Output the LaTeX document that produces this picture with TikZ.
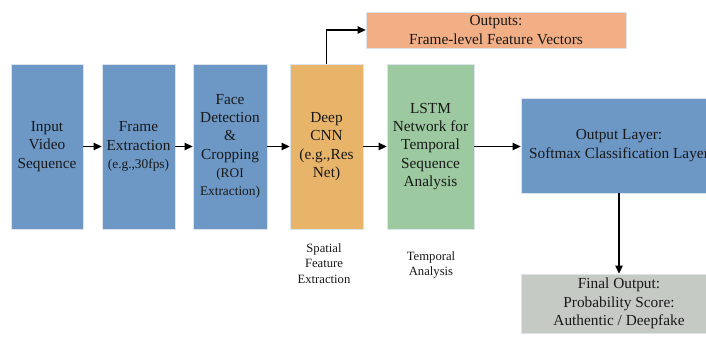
\documentclass[tikz,border=0pt]{standalone}
\usepackage{fontspec}
\setmainfont{Liberation Serif}
\usetikzlibrary{arrows.meta}
\definecolor{cblue}{HTML}{6D98C6}
\definecolor{corange}{HTML}{E8B46A}
\definecolor{cgreen}{HTML}{9CC9A0}
\definecolor{csalmon}{HTML}{F2AE85}
\definecolor{cgray}{HTML}{C6CAC5}
\definecolor{cedge}{HTML}{DDE3EA}
\tikzset{
  box/.style={rectangle, draw=cedge, line width=0.5pt, inner sep=1pt, align=center,
    font=\fontsize{11.5}{13.7}\selectfont, text=black!90},
  tall/.style={box, minimum height=123.75pt},
  sm/.style={font=\fontsize{10}{12.5}\selectfont},
  lbl/.style={align=center, font=\fontsize{9.5}{11.6}\selectfont, text=black!90},
  arr/.style={-{Triangle[length=6pt,width=5.5pt]}, line width=1.1pt, black}
}
\begin{document}
\begin{tikzpicture}[x=0.75pt,y=-0.75pt]
\useasboundingbox (0,0) rectangle (706,343);
\clip (0,0) rectangle (706,343);
\fill[white] (0,0) rectangle (706,343);
\node[tall, fill=cblue, minimum width=54pt] (b1) at (47,146.5) {Input\\Video\\Sequence};
\node[tall, fill=cblue, minimum width=54.75pt] (b2) at (138.5,146.5) {Frame\\Extraction\\{\fontsize{10}{12.5}\selectfont(e.g.,30fps)}};
\node[tall, fill=cblue, minimum width=55.5pt] (b3) at (230,146.5) {Face\\Detection\\\&\\Cropping\\{\fontsize{10}{12.5}\selectfont(ROI}\\{\fontsize{10}{12.5}\selectfont Extraction)}};
\node[tall, fill=corange, minimum width=54.75pt] (b4) at (326.5,146.5) {Deep\\CNN\\(e.g.,Res\\Net)};
\node[tall, fill=cgreen, minimum width=65.25pt] (b5) at (430.5,146.5) {LSTM\\Network for\\Temporal\\Sequence\\Analysis};
\node[box, fill=csalmon, minimum width=195pt, minimum height=27pt] (out) at (496,30) {Outputs:\\Frame-level Feature Vectors};
\node[box, fill=cblue, minimum width=147pt, minimum height=71.25pt] (ol) at (619,145.5) {Output Layer:\\Softmax Classification Layer};
\node[box, fill=cgray, minimum width=147pt, minimum height=44.25pt] (fin) at (619,303.5) {Final Output:\\Probability Score:\\Authentic / Deepfake};
\node[lbl] (l1) at (324,263.5) {Spatial\\Feature\\Extraction};
\node[lbl] (l2) at (431,265) {Temporal\\Analysis};
\draw[arr] (b1) -- (b2);
\draw[arr] (b2) -- (b3);
\draw[arr] (b3) -- (b4);
\draw[arr] (b4) -- (b5);
\draw[arr] (b5.east) -- (b5.east -| ol.west);
\draw[arr] (b4.north) |- (out.west);
\draw[arr] (ol.south) -- (fin.north);
\end{tikzpicture}
\end{document}
